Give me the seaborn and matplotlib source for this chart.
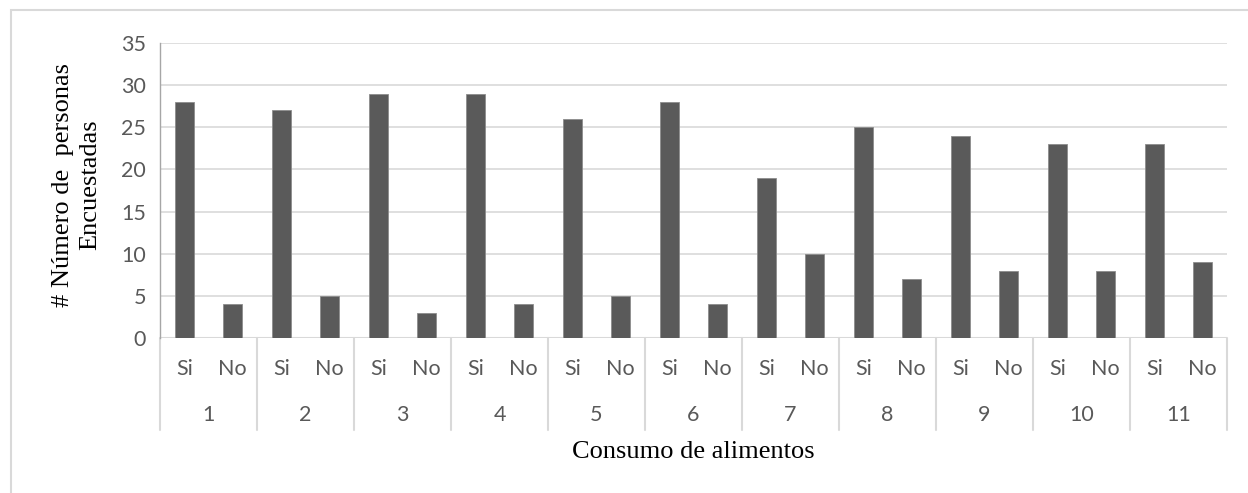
import numpy as np
import pandas as pd
import matplotlib
matplotlib.use("Agg")
import matplotlib.pyplot as plt
import matplotlib.transforms as mtransforms
from matplotlib.patches import Rectangle
import seaborn as sns

groups = ["1", "2", "3", "4", "5", "6", "7", "8", "9", "10", "11"]
answers = ["Si", "No"]
si_values = [28, 27, 29, 29, 26, 28, 19, 25, 24, 23, 23]
no_values = [4, 5, 3, 4, 5, 4, 10, 7, 8, 8, 9]

rows = []
for g, s, n in zip(groups, si_values, no_values):
    rows.append({"grupo": g, "respuesta": "Si", "valor": s})
    rows.append({"grupo": g, "respuesta": "No", "valor": n})
df = pd.DataFrame(rows)
df["clave"] = df["grupo"] + "-" + df["respuesta"]

sns.set_style("white")
tick_font = "Lato"
serif_font = "Liberation Serif"
txt_color = "#595959"
grid_color = "#d9d9d9"
tick_size = 15.5

fig = plt.figure(figsize=(12.48, 4.93), dpi=100)
ax = fig.add_axes([160 / 1248, 155 / 493, 1067 / 1248, 295 / 493])

sns.barplot(data=df, x="clave", y="valor", order=list(df["clave"]),
            color="#5a5a5a", width=0.4, saturation=1, edgecolor="#8c8c8c",
            linewidth=0.6, ax=ax, zorder=3)

ax.set_ylim(0, 35)
ax.set_xlim(-0.5, len(df) - 0.5)
ax.set_yticks(range(0, 36, 5))
ax.yaxis.grid(True, color=grid_color, linewidth=1.2, zorder=0)
ax.set_axisbelow(True)
for side in ["top", "right", "bottom"]:
    ax.spines[side].set_visible(False)
ax.spines["left"].set_color("#a6a6a6")
ax.spines["left"].set_linewidth(1)
ax.axhline(0, color=grid_color, linewidth=1.5, zorder=1)
ax.tick_params(axis="y", length=6, width=1, color="#a6a6a6", labelcolor=txt_color,
               labelsize=tick_size, pad=4)
for lab in ax.get_yticklabels():
    lab.set_fontfamily(tick_font)
ax.set_xticks([])
ax.set_xlabel("")
ax.set_ylabel("")

trans = mtransforms.blended_transform_factory(ax.transData, ax.transAxes)
for i, key in enumerate(df["clave"]):
    ax.text(i, -0.105, df["respuesta"].iloc[i], transform=trans, ha="center", va="center",
            fontsize=tick_size, color=txt_color, fontfamily=tick_font)
for j, g in enumerate(groups):
    ax.text(2 * j + 0.5, -0.26, g, transform=trans, ha="center", va="center",
            fontsize=tick_size, color=txt_color, fontfamily=tick_font)
for b in np.arange(-0.5, len(df), 2):
    ax.plot([b, b], [0, -0.312], transform=trans, color=grid_color, linewidth=1.5,
            clip_on=False)

fig.text(693 / 1248, 1 - 452 / 493, "Consumo de alimentos", ha="center", va="center",
         fontsize=19, fontfamily=serif_font, color="black")
fig.text(77 / 1248, 1 - 185 / 493, "# Número de  personas\nEncuestadas", ha="center",
         va="center", rotation=90, fontsize=19, fontfamily=serif_font, color="black",
         linespacing=1.3)

fig.patches.append(Rectangle((11 / 1248, -0.1), 1.2, 1.1 + (1 - 10 / 493) - 1,
                             transform=fig.transFigure, fill=False,
                             edgecolor=grid_color, linewidth=1.5))

fig.savefig("out.png", dpi=100, facecolor="white")
